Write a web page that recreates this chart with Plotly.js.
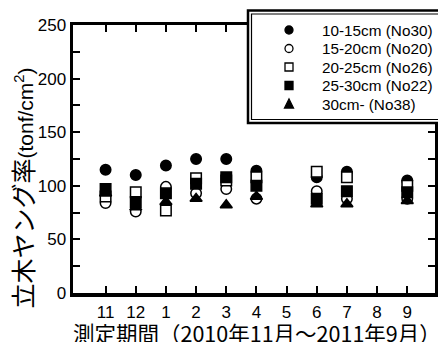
<!DOCTYPE html>
<html><head><meta charset="utf-8">
<script src="https://cdn.plot.ly/plotly-3.0.1.min.js"></script>
<style>html,body{margin:0;padding:0;background:#fff}</style>
</head><body>
<div id="chart" style="width:438px;height:342px"></div>
<script>
// tick labels (months on the x axis)
const tickLabels = ['11','12','1','2','3','4','5','6','7','8','9'];
// months with measurements
const dataMonths = ['11','12','1','2','3','4','6','7','9'];
// series values (tonf/cm2)
const s10_15 = [115, 110, 119, 125, 125, 114, 108, 113, 105];
const s15_20 = [84, 76, 99, 93, 97, 88, 95, 88, 88];
const s20_25 = [90, 94, 77, 107, 105, 108, 113, 108, 100];
const s25_30 = [97, 85, 93, 102, 108, 100, 88, 95, 94];
const s30 = [93, 80, 85, 88, 82, 90, 83, 83, 86];
const names = ['10-15cm (No30)','15-20cm (No20)','20-25cm (No26)','25-30cm (No22)','30cm- (No38)'];
const yTicks = [0, 50, 100, 150, 200, 250];

const xPos = dataMonths.map(m => tickLabels.indexOf(m));
const tickVals = tickLabels.map((t,i) => i);

const styles = [
  {symbol:'circle', fill:'#000'},
  {symbol:'circle', fill:'#fff'},
  {symbol:'square', fill:'#fff'},
  {symbol:'square', fill:'#000'},
  {symbol:'triangle-up', fill:'#000'}
];
const series = [s10_15, s15_20, s20_25, s25_30, s30];

const data = series.map((y, i) => ({
  x: xPos, y: y, name: names[i], type:'scatter', mode:'markers', showlegend:false,
  marker:{symbol:styles[i].symbol, size:10.5, color:styles[i].fill, line:{color:'#000', width:1.5}}
}));
// empty helper trace so the label-only x axis (x2) is drawn
data.push({x:[], y:[], xaxis:'x2', yaxis:'y', type:'scatter', mode:'markers', showlegend:false, hoverinfo:'skip'});

const L = 73, R = 435, T = 25, B = 293;
const px = v => (v - L) / (R - L);
const py = v => (B - v) / (B - T);

// legend box (double border) and legend entries
const shapes = [
  {type:'rect', xref:'paper', yref:'paper', x0:px(248), x1:px(442), y0:py(123), y1:py(10.5),
    line:{color:'#000', width:2.5}, fillcolor:'#fff', layer:'above'},
  {type:'rect', xref:'paper', yref:'paper', x0:px(251.5), x1:px(442), y0:py(119.5), y1:py(14),
    line:{color:'#000', width:1.2}, fillcolor:'rgba(0,0,0,0)', layer:'above'}
];
const annotations = [];
const symX = 289, txtX = 321, rowY0 = 30, rowDy = 18.5, r = 4;
names.forEach((n, i) => {
  const cy = rowY0 + i * rowDy;
  const st = styles[i];
  const base = {xref:'paper', yref:'paper', layer:'above', line:{color:'#000', width:1.3},
    fillcolor: st.fill};
  if (st.symbol === 'circle') {
    shapes.push(Object.assign({type:'circle', x0:px(symX-r), x1:px(symX+r), y0:py(cy+r), y1:py(cy-r)}, base));
  } else if (st.symbol === 'square') {
    shapes.push(Object.assign({type:'rect', x0:px(symX-r), x1:px(symX+r), y0:py(cy+r), y1:py(cy-r)}, base));
  } else {
    shapes.push(Object.assign({type:'path',
      path:`M ${px(symX-r-0.5)} ${py(cy+r)} L ${px(symX+r+0.5)} ${py(cy+r)} L ${px(symX)} ${py(cy-r-1)} Z`}, base));
  }
  annotations.push({text:n, xref:'paper', yref:'paper', x:px(txtX), y:py(cy), xanchor:'left', yanchor:'middle',
    showarrow:false, borderpad:0,
    font:{family:'Liberation Sans, Arial, sans-serif', size:15.3, color:'#000'}});
});

annotations.push(
  {text:'<span style="font-size:25px">立木ヤング率</span>(tonf/cm<sup>2</sup>)', xref:'paper', yref:'paper',
    x:px(23), y:py(310), xanchor:'center', yanchor:'bottom', textangle:-90, showarrow:false, borderpad:0,
    font:{family:'Liberation Sans, Noto Sans CJK JP, sans-serif', size:21, color:'#000'}},
  {text:'測定期間（2010年11月～2011年9月）', xref:'paper', yref:'paper', x:px(72), y:py(332),
    xanchor:'left', yanchor:'middle', showarrow:false, borderpad:0,
    font:{family:'Noto Sans CJK JP, sans-serif', size:21.5, color:'#000'}}
);

const numFont = {family:'Liberation Sans, Arial, sans-serif', size:17, color:'#000'};
const xRange = [-1.08, 10.92];
const layout = {
  width:438, height:342,
  margin:{l:L, r:438-R, t:T, b:342-B, pad:0},
  paper_bgcolor:'#fff', plot_bgcolor:'#fff',
  showlegend:false,
  xaxis:{range:xRange, tickvals:tickVals, showticklabels:false,
    ticks:'inside', ticklen:7, tickwidth:2, tickcolor:'#000',
    showline:true, linewidth:3.5, linecolor:'#000', mirror:'ticks',
    showgrid:false, zeroline:false, fixedrange:true},
  // label-only axis, pushed down with invisible outside ticks
  xaxis2:{range:xRange, tickvals:tickVals, ticktext:tickLabels, overlaying:'x', anchor:'y', side:'bottom',
    ticks:'outside', ticklen:4, tickcolor:'rgba(0,0,0,0)',
    showline:false, showgrid:false, zeroline:false, tickfont:numFont, fixedrange:true},
  yaxis:{range:[0,250], tickvals:yTicks,
    ticks:'inside', ticklen:7, tickwidth:2, tickcolor:'#000',
    minor:{dtick:25, tick0:0, ticks:'inside', ticklen:7, tickwidth:2, tickcolor:'#000', showgrid:false},
    showline:true, linewidth:3.5, linecolor:'#000', mirror:'ticks',
    showgrid:false, zeroline:false, tickfont:numFont, fixedrange:true},
  shapes: shapes,
  annotations: annotations
};
Plotly.newPlot('chart', data, layout, {staticPlot:true, displayModeBar:false});
</script>
</body></html>
